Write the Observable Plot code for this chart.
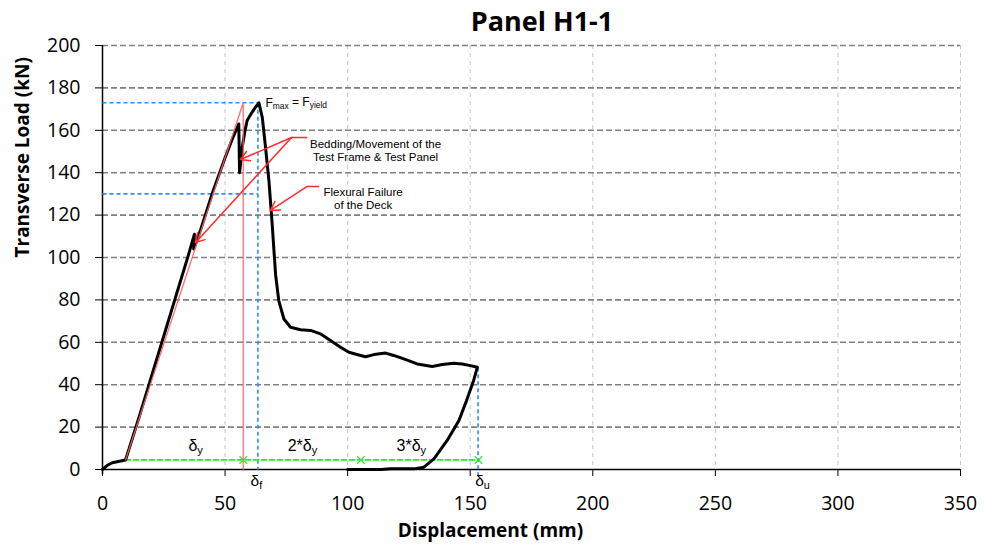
<!DOCTYPE html>
<html>
<head>
<meta charset="utf-8">
<script src="https://cdn.jsdelivr.net/npm/d3@7"></script>
<script src="https://cdn.jsdelivr.net/npm/@observablehq/plot@0.6"></script>
<style>
  html, body { margin: 0; padding: 0; background: #fff; }
  #wrap { width: 986px; height: 548px; position: relative; overflow: hidden; }
  #title { position: absolute; left: 0; top: 0; width: 986px; height: 42px; text-align: center;
           font-family: "Open Sans", sans-serif; font-weight: bold; font-size: 27px; line-height: 42px;
           padding-left: 98px; box-sizing: border-box; color: #000; }
  #chart { position: absolute; left: 0; top: 40px; }
</style>
</head>
<body>
<div id="wrap">
  <div id="title">Panel H1-1</div>
  <div id="chart"></div>
</div>
<script>
// ---------- data ----------
const titleText = "Panel H1-1";
const xLabel = "Displacement (mm)";
const yLabel = "Transverse Load (kN)";
const xTicks = [0, 50, 100, 150, 200, 250, 300, 350];
const yTicks = [0, 20, 40, 60, 80, 100, 120, 140, 160, 180, 200];

// measured load-displacement curve
const dispX = [0, 2, 4, 9.4, 15, 20, 25, 30, 35, 37.5, 37.2, 40, 45, 50, 53, 55.6, 55.9, 56.5, 57, 58, 59, 61, 62.5, 63.8,
  65.2, 66.5, 67.9, 69.2, 70.6, 71.9, 74, 76.7, 80.8, 84.9, 88.9, 93, 97.1, 100.5, 105.3, 107.3, 110.7, 115.5, 118.8,
  122.9, 128.4, 134.5, 138.6, 143.3, 146.7, 150.1, 152.9, 151.4, 148.5, 145.4, 140.6, 135.2, 131.1, 127, 117.5, 113.7, 100];
const loadY = [0, 2, 3.2, 4.5, 25, 44, 63, 82, 101, 111, 104, 113, 131, 147, 156, 163, 140, 146, 152, 159, 164.6, 168.5, 171, 173,
  166, 152, 136, 116, 92, 79.7, 71, 67.1, 65.9, 65.6, 64, 60.8, 57.7, 55.3, 53.8, 53.2, 54.2, 54.9, 53.8,
  52.2, 49.8, 48.6, 49.5, 50.1, 49.8, 49, 48.2, 42, 32.5, 23.1, 13.7, 5, 1.1, 0.3, 0.3, 0, 0];

// secant (red) line: from start of linear branch to F_max level, then down to axis
const secantX = [9.4, 57.4, 57.4];
const secantY = [4.5, 173, 0];

// blue dashed reference lines
const blueX1 = [0, 0, 63.4, 153.2];
const blueY1 = [173, 130, 173, 48.2];
const blueX2 = [63.4, 63.4, 63.4, 153.2];
const blueY2 = [173, 130, 0, -3];

// green ductility line and marks
const greenX = [9.4, 153.6];
const greenY = [4.5, 4.5];
const greenMarkX = [57.4, 105.4, 153.4];
const greenMarkY = [4.5, 4.5, 4.5];

// labels
const deltaLabels = ["δ_{y}", "2*δ_{y}", "3*δ_{y}"];
const deltaLabelX = [38, 81.6, 126];
const deltaLabelY = [11.3, 11.3, 11.3];
const axisDeltaLabels = ["δ_{f}", "δ_{u}"];
const axisDeltaX = [62.8, 155];
const axisDeltaY = [-5.3, -5.3];

const fmaxLabel = "F_{max} = F_{yield}";
const fmaxX = 66.5, fmaxY = 173;

const noteTexts = ["Bedding/Movement of the\nTest Frame & Test Panel", "Flexural Failure\nof the Deck"];
const noteX = [111.4, 106.3];
const noteY = [150.6, 128];

// red annotation leaders and arrows
const leaderX1 = [83.5, 88.4];
const leaderY1 = [156.6, 133.5];
const leaderX2 = [77.1, 83.5];
const leaderY2 = [156.6, 133.5];
const arrowX1 = [77.1, 77.1, 83.5];
const arrowY1 = [156.6, 156.6, 133.5];
const arrowX2 = [56.3, 37.9, 68.5];
const arrowY2 = [146.2, 107, 122.2];

// ---------- build ----------
const curve = dispX.map((x, i) => ({x, y: loadY[i]}));
const secant = secantX.map((x, i) => ({x, y: secantY[i]}));
const blue = blueX1.map((x, i) => ({x1: x, y1: blueY1[i], x2: blueX2[i], y2: blueY2[i]}));
const green = greenX.map((x, i) => ({x, y: greenY[i]}));
const gmarks = greenMarkX.map((x, i) => ({x, y: greenMarkY[i]}));
const dlabels = deltaLabels.map((t, i) => ({t, x: deltaLabelX[i], y: deltaLabelY[i]}));
const alabels = axisDeltaLabels.map((t, i) => ({t, x: axisDeltaX[i], y: axisDeltaY[i]}));
const notes = noteTexts.map((t, i) => ({t, x: noteX[i], y: noteY[i]}));
const leaders = leaderX1.map((x, i) => ({x1: x, y1: leaderY1[i], x2: leaderX2[i], y2: leaderY2[i]}));
const arrows = arrowX1.map((x, i) => ({x1: x, y1: arrowY1[i], x2: arrowX2[i], y2: arrowY2[i]}));

const red = "#ff2a2a";

const chart = Plot.plot({
  width: 986,
  height: 508,
  marginLeft: 102,
  marginRight: 26,
  marginTop: 5,
  marginBottom: 79,
  x: {domain: [0, 350]},
  y: {domain: [0, 200]},
  style: {fontFamily: "'Open Sans', sans-serif", fontSize: "19px", color: "#000", background: "#fff", overflow: "visible"},
  marks: [
    Plot.gridX(xTicks.slice(1), {stroke: "#c4c4c4", strokeOpacity: 1, strokeDasharray: "4,4", strokeWidth: 1}),
    Plot.gridY(yTicks.slice(1), {stroke: "#808080", strokeOpacity: 1, strokeDasharray: "6,3", strokeWidth: 1.6}),
    Plot.axisX(xTicks, {tickSize: 7, tickPadding: 20, label: null, fontSize: 19.5}),
    Plot.axisY(yTicks, {tickSize: 7, tickPadding: 15, label: null, fontSize: 19.5}),
    Plot.ruleX([0], {stroke: "#000", strokeWidth: 1.5, y1: -2.5, y2: 200}),
    Plot.ruleY([0], {stroke: "#000", strokeWidth: 1.5}),
    Plot.link(blue, {x1: "x1", y1: "y1", x2: "x2", y2: "y2", stroke: "#2b8cff", strokeWidth: 1.6, strokeDasharray: "4,3"}),
    Plot.line(green, {x: "x", y: "y", stroke: "#33e633", strokeWidth: 1.8, strokeDasharray: "5,3"}),
    Plot.dot(gmarks, {x: "x", y: "y", symbol: "times", r: 3.5, stroke: "#33e633", strokeWidth: 1.2}),
    Plot.line(curve, {x: "x", y: "y", stroke: "#000", strokeWidth: 3, curve: "linear"}),
    Plot.line(secant, {x: "x", y: "y", stroke: "#ff6060", strokeWidth: 1.3, strokeOpacity: 0.9}),
    Plot.link(leaders, {x1: "x1", y1: "y1", x2: "x2", y2: "y2", stroke: red, strokeWidth: 1.5}),
    Plot.arrow(arrows, {x1: "x1", y1: "y1", x2: "x2", y2: "y2", stroke: red, strokeWidth: 1.5, headLength: 10, inset: 0, bend: 0}),
    Plot.text(dlabels, {x: "x", y: "y", text: "t", fontFamily: "'Liberation Sans', Arial, sans-serif", fontSize: 16, fill: "#000"}),
    Plot.text(alabels, {x: "x", y: "y", text: "t", fontFamily: "'Liberation Sans', Arial, sans-serif", fontSize: 15.5, fill: "#000"}),
    Plot.text([fmaxLabel], {x: fmaxX, y: fmaxY, text: d => d, textAnchor: "start", fontFamily: "'Liberation Sans', Arial, sans-serif", fontSize: 12, fill: "#000"}),
    Plot.text(notes, {x: "x", y: "y", text: "t", fontFamily: "'Liberation Sans', Arial, sans-serif", fontSize: 11.5, lineHeight: 1.12, fill: "#000"}),
    Plot.text([yLabel], {frameAnchor: "left", dx: -80, rotate: -90, text: d => d, fontWeight: "bold", fontSize: 19}),
    Plot.text([xLabel], {frameAnchor: "bottom", dx: -41, dy: 67, text: d => d, fontWeight: "bold", fontSize: 19})
  ]
});

// subscripts: turn "_{...}" into lowered, smaller tspans
d3.select(chart).selectAll("text").each(function () {
  const s = this.textContent;
  if (!s.includes("_{") || this.querySelector("tspan")) return;
  const parts = s.split(/(_\{[^}]*\})/).filter(p => p.length);
  this.textContent = "";
  let lowered = false;
  for (const p of parts) {
    const ts = document.createElementNS("http://www.w3.org/2000/svg", "tspan");
    if (p.startsWith("_{")) {
      ts.textContent = p.slice(2, -1);
      ts.setAttribute("font-size", "70%");
      ts.setAttribute("dy", "0.3em");
      lowered = true;
    } else {
      ts.textContent = p;
      if (lowered) { ts.setAttribute("dy", "-0.3em"); lowered = false; }
    }
    this.appendChild(ts);
  }
});

document.getElementById("chart").appendChild(chart);
</script>
</body>
</html>
